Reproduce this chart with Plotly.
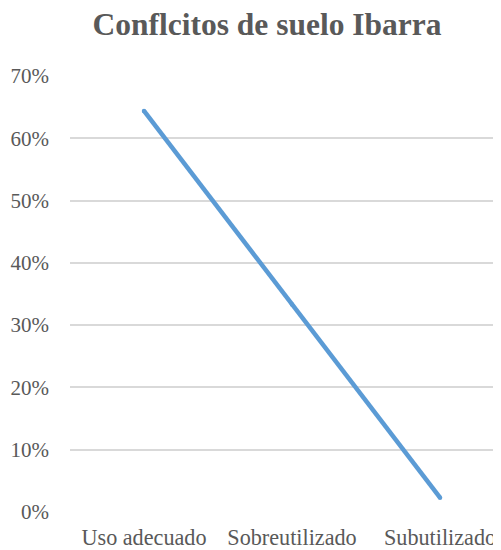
import plotly.graph_objects as go

categories = ["Uso adecuado", "Sobreutilizado", "Subutilizado"]
values = [0.644, 0.333, 0.023]
y_ticks = [0, 0.1, 0.2, 0.3, 0.4, 0.5, 0.6, 0.7]
y_tick_labels = ["0%", "10%", "20%", "30%", "40%", "50%", "60%", "70%"]
title_text = "Conflcitos de suelo Ibarra"

fig = go.Figure()
fig.add_trace(go.Scatter(
    x=categories, y=values, mode="lines+markers",
    line=dict(color="#5B9BD5", width=4.5),
    marker=dict(color="#5B9BD5", size=4.5),
    hoverinfo="skip", showlegend=False,
))

font_family = "Liberation Serif"
W, H = 501, 542
fig.update_layout(
    width=W, height=H,
    margin=dict(l=62, r=0, t=67, b=37),
    paper_bgcolor="white", plot_bgcolor="white",
    title=dict(text="<b>" + title_text + "</b>", x=259/W, xref="container", xanchor="center",
               y=1 - 27/H, yref="container", yanchor="bottom",
               font=dict(family=font_family, size=31.5, color="#595959")),
    xaxis=dict(type="category", range=[-0.5, 2.466], showgrid=False, zeroline=False,
               showline=False, ticks="", ticklabelstandoff=9,
               tickfont=dict(family=font_family, size=22.2, color="#595959")),
    yaxis=dict(range=[-0.0016, 0.7016], tickvals=y_ticks, ticktext=y_tick_labels,
               showgrid=True, gridcolor="#D9D9D9", gridwidth=1.5, zeroline=False,
               showline=False, ticks="", ticklabelstandoff=20,
               tickfont=dict(family=font_family, size=21, color="#595959")),
)
fig.write_html("out.html")
